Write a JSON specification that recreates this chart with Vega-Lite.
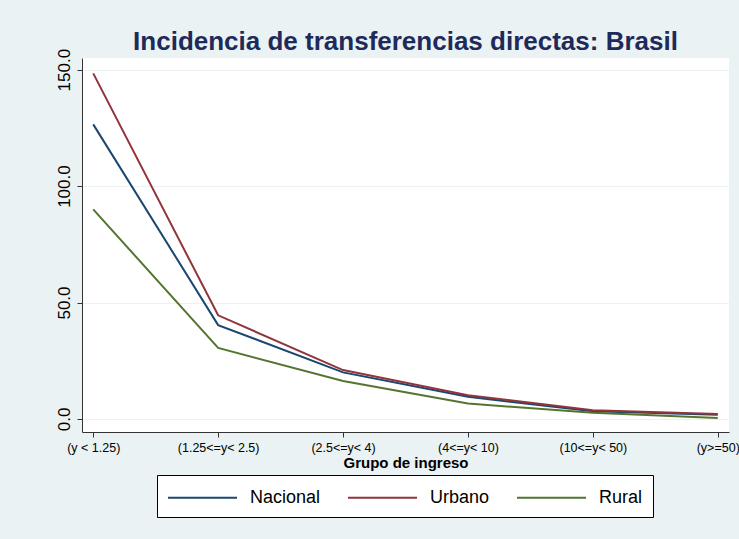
{
  "$schema": "https://vega.github.io/schema/vega-lite/v6.json",
  "width": 647,
  "height": 374,
  "autosize": {"type": "none"},
  "padding": {"left": 82, "top": 58, "right": 10, "bottom": 107},
  "background": "#EAF2F3",
  "title": {
    "text": "Incidencia de transferencias directas: Brasil",
    "fontSize": 26,
    "fontWeight": "bold",
    "color": "#1e2a5a",
    "anchor": "middle",
    "offset": -7
  },
  "data": {
    "values": [
      {"grupo": "(y < 1.25)", "serie": "Nacional", "valor": 126.5},
      {"grupo": "(1.25<=y< 2.5)", "serie": "Nacional", "valor": 40.3},
      {"grupo": "(2.5<=y< 4)", "serie": "Nacional", "valor": 20.0},
      {"grupo": "(4<=y< 10)", "serie": "Nacional", "valor": 9.5},
      {"grupo": "(10<=y< 50)", "serie": "Nacional", "valor": 3.3},
      {"grupo": "(y>=50)", "serie": "Nacional", "valor": 1.8},
      {"grupo": "(y < 1.25)", "serie": "Urbano", "valor": 148.4},
      {"grupo": "(1.25<=y< 2.5)", "serie": "Urbano", "valor": 44.5},
      {"grupo": "(2.5<=y< 4)", "serie": "Urbano", "valor": 21.0},
      {"grupo": "(4<=y< 10)", "serie": "Urbano", "valor": 10.2},
      {"grupo": "(10<=y< 50)", "serie": "Urbano", "valor": 3.7},
      {"grupo": "(y>=50)", "serie": "Urbano", "valor": 2.1},
      {"grupo": "(y < 1.25)", "serie": "Rural", "valor": 90.0},
      {"grupo": "(1.25<=y< 2.5)", "serie": "Rural", "valor": 30.5},
      {"grupo": "(2.5<=y< 4)", "serie": "Rural", "valor": 16.3},
      {"grupo": "(4<=y< 10)", "serie": "Rural", "valor": 6.6},
      {"grupo": "(10<=y< 50)", "serie": "Rural", "valor": 2.7},
      {"grupo": "(y>=50)", "serie": "Rural", "valor": 0.4}
    ]
  },
  "mark": {"type": "line", "strokeWidth": 2},
  "encoding": {
    "x": {
      "field": "grupo",
      "type": "ordinal",
      "sort": ["(y < 1.25)", "(1.25<=y< 2.5)", "(2.5<=y< 4)", "(4<=y< 10)", "(10<=y< 50)", "(y>=50)"],
      "scale": {"type": "point", "padding": 0.09},
      "axis": {
        "title": "Grupo de ingreso",
        "titleFontSize": 15,
        "titleFontWeight": "bold",
        "titleColor": "black",
        "titlePadding": 2,
        "labelFontSize": 12.5,
        "labelAngle": 0,
        "labelColor": "black",
        "labelPadding": 4,
        "tickSize": 5,
        "tickColor": "#333333",
        "domainColor": "#333333",
        "grid": false
      }
    },
    "y": {
      "field": "valor",
      "type": "quantitative",
      "scale": {"domain": [-5.6, 155], "nice": false, "zero": false},
      "axis": {
        "title": null,
        "values": [0, 50, 100, 150],
        "format": ".1f",
        "labelAngle": -90,
        "labelFontSize": 17,
        "labelColor": "black",
        "labelPadding": 4,
        "tickSize": 5,
        "tickColor": "#333333",
        "domainColor": "#333333",
        "grid": true,
        "gridColor": "#EAF2F3",
        "gridWidth": 1.2
      }
    },
    "color": {
      "field": "serie",
      "type": "nominal",
      "scale": {"domain": ["Nacional", "Urbano", "Rural"], "range": ["#1A476F", "#90353B", "#55752F"]},
      "legend": {
        "title": null,
        "orient": "none",
        "legendX": 75,
        "legendY": 417,
        "direction": "horizontal",
        "symbolType": "M-1,0H5",
        "symbolSize": 529,
        "symbolStrokeWidth": 2,
        "labelFontSize": 18,
        "labelColor": "black",
        "labelOffset": 58,
        "columnPadding": 23,
        "padding": 10,
        "strokeColor": "black",
        "fillColor": "white",
        "cornerRadius": 0
      }
    }
  },
  "config": {
    "font": "Liberation Sans",
    "view": {"fill": "white", "stroke": null}
  }
}
